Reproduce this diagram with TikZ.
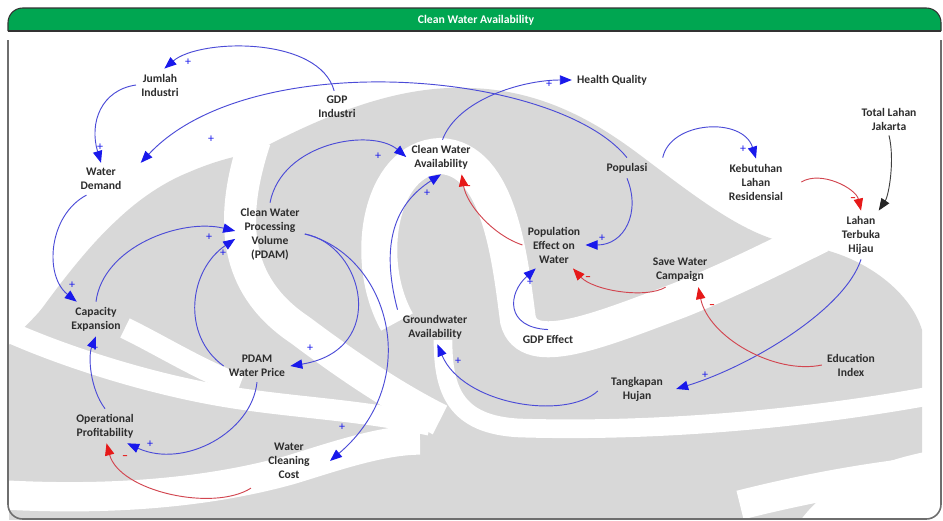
\documentclass[tikz,border=0pt]{standalone}
\usepackage{fontspec}
\setmainfont{Carlito}
\usetikzlibrary{arrows.meta}

\definecolor{hdrgreen}{RGB}{0,166,81}
\definecolor{wmgray}{RGB}{216,216,216}
\definecolor{lineblue}{RGB}{75,75,215}
\definecolor{headblue}{RGB}{25,25,235}
\definecolor{linered}{RGB}{210,70,80}
\definecolor{headred}{RGB}{230,25,25}
\definecolor{txtgray}{RGB}{45,45,45}
\definecolor{framegray}{RGB}{110,110,110}

\tikzset{
  var/.style={align=center, text=txtgray, font=\bfseries\fontsize{8.7}{10.5}\selectfont, inner sep=1pt, outer sep=3pt},
  link/.style={line width=0.7pt},
  poslink/.style={link, draw=lineblue, -{Triangle[length=9pt,width=7pt,color=headblue]}},
  neglink/.style={link, draw=linered, -{Triangle[length=9pt,width=7pt,color=headred]}},
  extlink/.style={link, draw=black!75, -{Triangle[length=9pt,width=7pt,color=black!85]}},
  plussign/.style={text=headblue, font=\fontsize{9}{9}\selectfont, inner sep=0pt},
  minussign/.style={text=headred, font=\bfseries\fontsize{9}{9}\selectfont, inner sep=0pt},
  band/.style={draw=white, line cap=butt},
}

\begin{document}
\begin{tikzpicture}[x=0.75pt, y=-0.75pt]
  \useasboundingbox (0,0) rectangle (943,521);

  % watermark in the background
  \begin{scope}
    \clip (9,32) rectangle (941,519);
    \fill[wmgray] (9,345) .. controls (20,330) and (35,318) .. (43,307)
      .. controls (70,270) and (95,240) .. (117,220)
      .. controls (140,198) and (165,182) .. (187,173)
      .. controls (210,163) and (230,157) .. (253,153)
      .. controls (330,112) and (400,85) .. (470,88)
      .. controls (545,90) and (600,125) .. (640,155)
      .. controls (700,200) and (750,240) .. (800,245)
      .. controls (860,252) and (910,290) .. (922,330)
      -- (922,521) -- (9,521) -- cycle;
    % central leaf outline and its right sweep
    \draw[band, line width=27pt] (397,322) .. controls (362,260) and (380,158) .. (440,156)
      .. controls (500,158) and (510,260) .. (518,320)
      .. controls (528,360) and (600,330) .. (680,300)
      .. controls (730,280) and (780,255) .. (820,235);
    % trunk
    \draw[band, line width=14pt] (443,340) .. controls (443,390) and (455,425) .. (520,428)
      .. controls (650,432) and (800,420) .. (935,395);
    \fill[white] (800,521) .. controls (830,480) and (880,460) .. (935,450) -- (935,521) -- cycle;
    \draw[band, line width=22pt] (740,505) .. controls (800,490) and (860,478) .. (935,470);
    % left sweeps
    \draw[band, line width=24pt] (255,140) .. controls (225,230) and (240,290) .. (300,330)
      .. controls (340,360) and (390,395) .. (440,420);
    \draw[band, line width=16pt] (5,330) .. controls (60,355) and (150,385) .. (235,398)
      .. controls (300,408) and (360,410) .. (430,425);
    \draw[band, line width=16pt] (125,328) .. controls (160,345) and (200,370) .. (240,385);
    \draw[band, line width=22pt] (5,495) .. controls (100,500) and (200,495) .. (290,470)
      .. controls (330,458) and (380,440) .. (420,440);
  \end{scope}

  % frame and title bar
  \draw[framegray, line width=1.2pt, rounded corners=11pt] (8,40) -- (8,519) -- (941,519) -- (941,40);
  \fill[hdrgreen] (8,31) [rounded corners=11pt] -- (8,8) -- (941,8) [sharp corners] -- (941,31) -- cycle;
  \draw[black!80, line width=0.8pt, rounded corners=11pt] (8,31) -- (8,8) -- (941,8) -- (941,31);
  \draw[black!80, line width=1.2pt] (8,31) -- (941,31);
  \node[text=white, font=\bfseries\fontsize{8.8}{10}\selectfont] (title) at (476,20) {Clean Water Availability};

  % variables
  \node[var] (jumlah) at (160,85) {Jumlah\\Industri};
  \node[var] (gdpind) at (337,107) {GDP\\Industri};
  \node[var] (wdemand) at (101,179) {Water\\Demand};
  \node[var] (cwa) at (441,157) {Clean Water\\Availability};
  \node[var] (health) at (612,80) {Health Quality};
  \node[var] (populasi) at (627,168) {Populasi};
  \node[var] (kebutuhan) at (756,182) {Kebutuhan\\Lahan\\Residensial};
  \node[var] (totlahan) at (889,119) {Total Lahan\\Jakarta};
  \node[var] (hijau) at (861,235) {Lahan\\Terbuka\\Hijau};
  \node[var] (cwpv) at (270,234) {Clean Water\\Processing\\Volume\\(PDAM)};
  \node[var] (popeffect) at (554,245) {Population\\Effect on\\Water};
  \node[var] (savewater) at (680,270) {Save Water\\Campaign};
  \node[var] (capexp) at (96,319) {Capacity\\Expansion};
  \node[var] (groundw) at (435,327) {Groundwater\\Availability};
  \node[var] (gdpeffect) at (548,339) {GDP Effect};
  \node[var] (price) at (257,366) {PDAM\\Water Price};
  \node[var] (eduindex) at (851,365) {Education\\Index};
  \node[var] (tangkapan) at (637,389) {Tangkapan\\Hujan};
  \node[var] (profit) at (105,426) {Operational\\Profitability};
  \node[var] (wcost) at (289,461) {Water\\Cleaning\\Cost};

  % links
  \draw[poslink] (gdpind.100) .. controls +(-15,-55) and +(35,-30) .. (jumlah.75);
  \draw[poslink] (jumlah.west) .. controls +(-35,5) and +(-12,-40) .. (wdemand.north);
  \draw[poslink] (populasi.north) .. controls +(-70,-87) and +(110,-118) .. ([shift={(14,0)}]wdemand.north east);
  \draw[poslink] (wdemand.-132) .. controls +(-38,20) and +(-33,-26) .. (capexp.138);
  \draw[poslink] (capexp.north) .. controls +(7,-55) and +(-54,-13) .. (cwpv.175);
  \draw[poslink] (price.west) .. controls +(-43,-31) and +(-46,31) .. (cwpv.188);
  \draw[poslink] (cwpv.north) .. controls +(12,-61) and +(-34,-29) .. (cwa.west);
  \draw[poslink] (cwpv.east) .. controls +(59,11) and +(99,-16) .. (price.east);
  \draw[poslink] (cwpv.east) .. controls +(84,21) and +(95,-81) .. ([shift={(15,0)}]wcost.east);
  \draw[poslink] (price.south) .. controls +(-5,50) and +(57,26) .. (profit.-38);
  \draw[poslink] (profit.north) .. controls +(-15,-20) and +(-8,20) .. (capexp.south);
  \draw[neglink] ([shift={(-12,4)}]wcost.south west) .. controls +(-38,24) and +(13,48) .. (profit.-85);
  \draw[poslink] (groundw.north west) .. controls +(-18,-68) and +(-45,29) .. (cwa.south);
  \draw[neglink] (popeffect.west) .. controls +(-30,-10) and +(5,30) .. (cwa.-40);
  \draw[poslink] (cwa.85) .. controls +(15,-40) and +(-50,0) .. (health.west);
  \draw[poslink] (populasi.south) .. controls +(14,34) and +(39,0) .. (popeffect.east);
  \draw[poslink] (gdpeffect.north) .. controls +(-43,-2) and +(-28,25) .. (popeffect.-128);
  \draw[neglink] (savewater.-130) .. controls +(-20,12) and +(20,22) .. (popeffect.-51);
  \draw[poslink] ([shift={(10,0)}]populasi.north east) .. controls +(8,-37) and +(-13,-42) .. (kebutuhan.north);
  \draw[neglink] ([shift={(13,0)}]kebutuhan.east) .. controls +(20,-12) and +(-5,-22) .. (hijau.north);
  \draw[extlink] (totlahan.south) .. controls +(6,25) and +(10,-15) .. (hijau.54);
  \draw[poslink] (hijau.south) .. controls +(-16,50) and +(75,-23) .. ([shift={(8,0)}]tangkapan.east);
  \draw[neglink] (eduindex.west) .. controls +(-47,10) and +(10,50) .. (savewater.-43);
  \draw[poslink] ([shift={(-8,2)}]tangkapan.west) .. controls +(-33,30) and +(25,60) .. (groundw.-82);

  % polarity marks
  \foreach \n/\x/\y in {a/188/62, b/100/147, c/211/139, d/549/84, e/378/156, f/427/193,
      g/602/238, h/530/282, i/743/149, j/705/375, k/458/361, l/72/285, m/209/237,
      n/223/253, o/310/348, p/342/427, q/150/444, r/95/348}
    \node[plussign] (plus\n) at (\x,\y) {+};
  \foreach \n/\x/\y in {a/468/188, b/588/279, c/853/200, d/712/307, e/125/458}
    \node[minussign] (minus\n) at (\x,\y) {--};
\end{tikzpicture}
\end{document}
